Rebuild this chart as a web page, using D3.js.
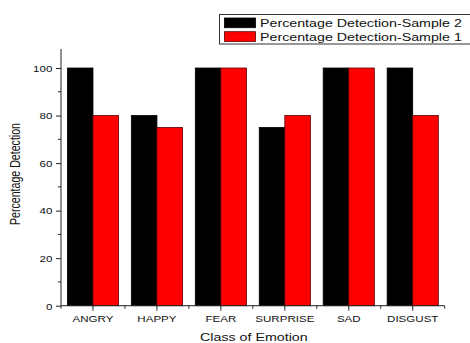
<!DOCTYPE html>
<html><head><meta charset="utf-8">
<script src="https://cdn.jsdelivr.net/npm/d3@7"></script>
<style>body{margin:0;background:#fff;} svg{display:block;font-family:"Liberation Sans",Arial,sans-serif;}</style>
</head><body>
<script>
const categories = ["ANGRY","HAPPY","FEAR","SURPRISE","SAD","DISGUST"];
const sample2 = [100, 80, 100, 75, 100, 100];
const sample1 = [80, 75, 100, 80, 100, 80];
const seriesNames = ["Percentage Detection-Sample 2","Percentage Detection-Sample 1"];
const seriesColors = ["#000000","#ff0000"];
const yTicks = [0,20,40,60,80,100];
const yMinorTicks = [10,30,50,70,90];

const W=470,H=343;
const svg=d3.select("body").append("svg").attr("width",W).attr("height",H);
const mLeft=61, mRight=444.7, mTop=49, mBottom=305.7;
const SX=1.1, SY=0.9; // text stretch of the original image

const x=d3.scaleBand().domain(categories).range([mLeft,mRight]).paddingInner(0.2).paddingOuter(0.1);
const x1=d3.scaleBand().domain([0,1]).range([0,x.bandwidth()]);
const y=d3.scaleLinear().domain([0,108]).range([mBottom,mTop]);

const series=[sample2,sample1];
series.forEach((vals,si)=>{
  svg.append("g").selectAll("rect").data(vals).join("rect")
    .attr("x",(d,i)=>x(categories[i])+x1(si))
    .attr("y",d=>y(d))
    .attr("width",x1.bandwidth())
    .attr("height",d=>y(0)-y(d))
    .attr("fill",seriesColors[si])
    .attr("stroke",si===0?"#000":"#5a0000")
    .attr("stroke-width",0.8);
});

// y axis
const ya=svg.append("g").attr("transform",`translate(${mLeft},0)`)
  .call(d3.axisLeft(y).tickValues(yTicks).tickSize(5));
ya.select(".domain").attr("d",`M0,${mTop}V${mBottom}`).attr("stroke","#222");
ya.selectAll(".tick line").attr("stroke","#222");
ya.selectAll("text").attr("font-size",10.5).attr("fill","#111").attr("font-family","Liberation Sans, Arial, sans-serif")
  .attr("x",-8.7/SX).attr("dy","0.35em").attr("transform",`scale(${SX},${SY})`);
ya.append("g").selectAll("line").data(yMinorTicks).join("line")
  .attr("x1",-3).attr("x2",0).attr("y1",d=>y(d)).attr("y2",d=>y(d)).attr("stroke","#222");

// x axis
const xa=svg.append("g").attr("transform",`translate(0,${mBottom})`)
  .call(d3.axisBottom(x).tickSize(5));
xa.select(".domain").attr("d",`M${mLeft},0H${mRight}`).attr("stroke","#222");
xa.selectAll(".tick line").attr("stroke","#222");
xa.selectAll("text").attr("font-size",10.5).attr("fill","#111").attr("font-family","Liberation Sans, Arial, sans-serif")
  .attr("dy",null).attr("y",16.3/SY).attr("transform",`scale(${SX},${SY})`);
const bounds=d3.range(categories.length+1).map(i=>mLeft+i*x.step());
xa.append("g").selectAll("line").data(bounds).join("line")
  .attr("x1",d=>d).attr("x2",d=>d).attr("y1",0).attr("y2",3).attr("stroke","#222");

// axis titles
svg.append("text").attr("transform",`translate(${(mLeft+mRight)/2+1},340.5) scale(1.14,0.9)`).attr("text-anchor","middle")
  .attr("font-size",12.5).attr("fill","#111").text("Class of Emotion");
svg.append("text").attr("transform",`translate(19.5,174) rotate(-90) scale(0.85,1.1)`).attr("text-anchor","middle")
  .attr("font-size",12.5).attr("fill","#111").text("Percentage Detection");

// legend
const lg=svg.append("g");
lg.append("rect").attr("x",219.5).attr("y",14.5).attr("width",260).attr("height",29.5)
  .attr("fill","#fff").attr("stroke","#333").attr("stroke-width",1);
seriesNames.forEach((n,i)=>{
  lg.append("rect").attr("x",224.5).attr("y",18+i*13.7).attr("width",31).attr("height",9.7)
    .attr("fill",seriesColors[i]).attr("stroke",i===0?"#000":"#5a0000").attr("stroke-width",0.8);
  lg.append("text").attr("transform",`translate(260,${27+i*13.7}) scale(1.14,0.92)`)
    .attr("font-size",12.5).attr("fill","#111").text(n);
});
</script>
</body></html>
